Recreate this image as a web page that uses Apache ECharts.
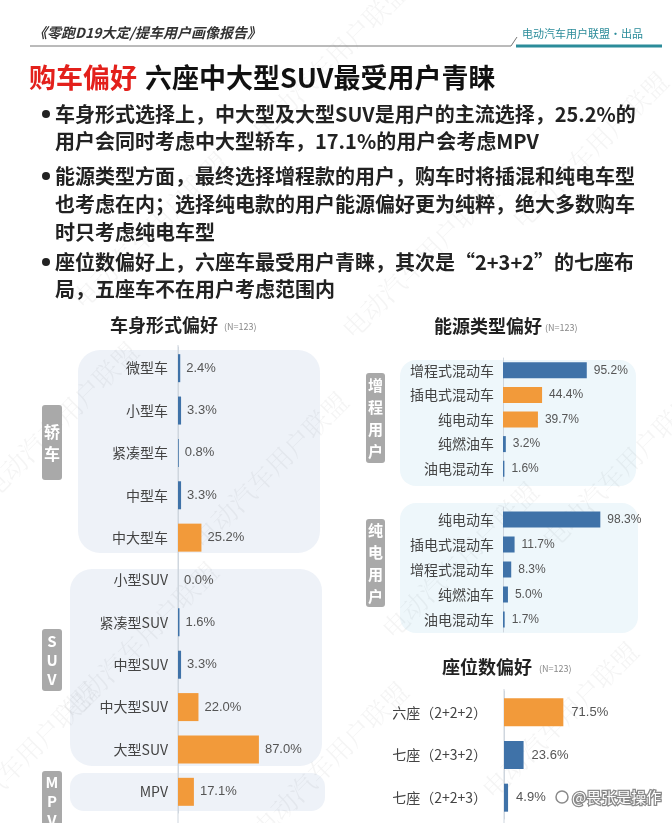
<!DOCTYPE html>
<html><head><meta charset="utf-8">
<script src="https://cdn.jsdelivr.net/npm/echarts@6/dist/echarts.min.js"></script>
<style>html,body{margin:0;padding:0;background:#fff}#c{width:672px;height:823px}</style>
</head><body><div id="c"></div>
<script>
// ---- data ----
const bodyCats = ['微型车','小型车','紧凑型车','中型车','中大型车','小型SUV','紧凑型SUV','中型SUV','中大型SUV','大型SUV','MPV'];
const bodyVals = [2.4, 3.3, 0.8, 3.3, 25.2, 0.0, 1.6, 3.3, 22.0, 87.0, 17.1];
const erevCats = ['增程式混动车','插电式混动车','纯电动车','纯燃油车','油电混动车'];
const erevVals = [95.2, 44.4, 39.7, 3.2, 1.6];
const bevCats = ['纯电动车','插电式混动车','增程式混动车','纯燃油车','油电混动车'];
const bevVals = [98.3, 11.7, 8.3, 5.0, 1.7];
const seatCats = ['六座（2+2+2）','七座（2+3+2）','七座（2+2+3）'];
const seatVals = [71.5, 23.6, 4.9];
const bullets = [
  ['车身形式选择上，中大型及大型SUV是用户的主流选择，25.2%的','用户会同时考虑中大型轿车，17.1%的用户会考虑MPV'],
  ['能源类型方面，最终选择增程款的用户，购车时将插混和纯电车型','也考虑在内；选择纯电款的用户能源偏好更为纯粹，绝大多数购车','时只考虑纯电车型'],
  ['座位数偏好上，六座车最受用户青睐，其次是“2+3+2”的七座布','局，五座车不在用户考虑范围内']
];

// ---- styles ----
const ORANGE = '#F29A3A', BLUE = '#3F72A8', FONT = '"Noto Sans CJK SC","Noto Sans",sans-serif';
const bodyOrange = ['中大型车','中大型SUV','大型SUV','MPV'];
const erevOrange = ['插电式混动车','纯电动车'];
const seatOrange = ['六座（2+2+2）'];

const chart = echarts.init(document.getElementById('c'), null, {renderer:'canvas'});

function T(text, x, y, font, fill, align) {
  return {type:'text', x:x, y:y, z:10, style:{text:text, font:font, fill:fill,
    textAlign:align||'left', align:align||'left', textVerticalAlign:'middle', verticalAlign:'middle'}};
}
const g = [];
// watermarks
const wm = [[330,60],[590,150],[150,230],[420,260],[60,420],[270,470],[620,470],[140,640],[460,560],[330,760],[560,720],[20,760]];
wm.forEach(p => g.push({type:'text', x:p[0], y:p[1], rotation:Math.PI/4, z:1,
  style:{text:'电动汽车用户联盟', font:'26px "Noto Serif CJK SC","Noto Sans CJK SC",serif', fill:'rgba(0,0,0,0.045)', textAlign:'center', align:'center', textVerticalAlign:'middle', verticalAlign:'middle'}}));
// header
g.push(T('《零跑D19大定/提车用户画像报告》', 33, 33, 'italic bold 14px '+FONT, '#333'));
g.push(T('电动汽车用户联盟•出品', 522, 34, '11px '+FONT, '#2B8C9A'));
g.push({type:'polyline', z:5, shape:{points:[[30,46],[511,46],[517,37]]}, style:{stroke:'#777', lineWidth:1, fill:null}});
g.push({type:'line', z:5, shape:{x1:516,y1:46,x2:662,y2:46}, style:{stroke:'#2B8C9A', lineWidth:3}});
// title
g.push(T('购车偏好', 29, 78, 'bold 27px '+FONT, '#E3201B'));
g.push(T('六座中大型SUV最受用户青睐', 145, 78, 'bold 27px '+FONT, '#111'));
// bullets
const lineYs = [[114,141],[176,204,232],[262,289]];
bullets.forEach((b, i) => {
  g.push({type:'circle', z:10, shape:{cx:46, cy:lineYs[i][0], r:4}, style:{fill:'#222'}});
  b.forEach((line, j) => g.push(T(line, 55, lineYs[i][j], 'bold 20px '+FONT, '#222')));
});
// section titles
g.push(T('车身形式偏好', 110, 325, 'bold 18px '+FONT, '#222'));
g.push(T('(N=123)', 224, 327, '9px '+FONT, '#888'));
g.push(T('能源类型偏好', 434, 326, 'bold 18px '+FONT, '#222'));
g.push(T('(N=123)', 545, 328, '9px '+FONT, '#888'));
g.push(T('座位数偏好', 442, 667, 'bold 18px '+FONT, '#222'));
g.push(T('(N=123)', 539, 669, '9px '+FONT, '#888'));
// background boxes
function box(x,y,w,h,r,c){ g.push({type:'rect', z:-10, shape:{x:x,y:y,width:w,height:h,r:r}, style:{fill:c}}); }
box(78,350,242,203,22,'#EEF2F8');
box(70,569,252,197,22,'#EEF2F8');
box(70,773,255,38,14,'#EEF2F8');
box(400,360,236,126,16,'#EEF7FB');
box(400,503,238,130,16,'#EEF7FB');
// vertical tags
function tag(x,y,w,h,txt,fs,lh){
  g.push({type:'rect', z:6, shape:{x:x,y:y,width:w,height:h,r:3}, style:{fill:'#A9A9A9'}});
  g.push({type:'text', z:7, x:x+w/2, y:y+h/2, style:{text:txt, font:'bold '+fs+'px '+FONT, fill:'#fff', textAlign:'center', align:'center', textVerticalAlign:'middle', verticalAlign:'middle', lineHeight:lh}});
}
tag(42,405,20,75,'轿\n车',16,22);
tag(42,629,20,62,'S\nU\nV',15,19);
tag(42,771,20,60,'M\nP\nV',15,19);
tag(366,373,19,90,'增\n程\n用\n户',15,22);
tag(366,519,19,88,'纯\n电\n用\n户',15,22);
// axis line extensions
g.push({type:'line', z:8, shape:{x1:178,y1:345,x2:178,y2:823}, style:{stroke:'#cfd6de', lineWidth:1}});
g.push({type:'line', z:8, shape:{x1:504,y1:689,x2:504,y2:823}, style:{stroke:'#cfd6de', lineWidth:1}});
// credit
g.push({type:'text', z:12, x:572, y:797, style:{text:'@畏张是操作', font:'15px '+FONT, fill:'#fff', stroke:'#8a8a8a', lineWidth:2.5, textAlign:'left', align:'left', textVerticalAlign:'middle', verticalAlign:'middle'}});
g.push({type:'circle', z:12, shape:{cx:562, cy:797, r:6}, style:{fill:'#fff', stroke:'#8a8a8a', lineWidth:1.5}});

function colorData(cats, vals, orangeSet){
  return vals.map((v,i) => ({value:v, itemStyle:{color: orangeSet.indexOf(cats[i])>=0 ? ORANGE : BLUE}}));
}
function yAx(idx, cats, fs, margin){
  return {type:'category', gridIndex:idx, data:cats, inverse:true, z:20,
    axisLine:{show:true, lineStyle:{color:'#cfd6de'}}, axisTick:{show:false},
    axisLabel:{color:'#444', fontSize:fs, fontFamily:FONT, margin:margin}};
}
function xAx(idx, max){
  return {type:'value', gridIndex:idx, min:0, max:max, show:false, splitLine:{show:false}};
}
function ser(idx, data, bw, fs, dist){
  return {type:'bar', xAxisIndex:idx, yAxisIndex:idx, data:data, barWidth:bw, z:20,
    label:{show:true, position:'right', distance:dist, color:'#555', fontSize:fs, fontFamily:'"Liberation Sans",Arial,sans-serif',
      formatter:p => p.value.toFixed(1)+'%'}};
}

chart.setOption({
  animation:false,
  backgroundColor:'#fff',
  grid:[
    {left:178, top:347, width:93, height:466},
    {left:503, top:358, width:88, height:123},
    {left:503, top:507, width:99, height:125},
    {left:504, top:691, width:83, height:128}
  ],
  xAxis:[xAx(0,100), xAx(1,100), xAx(2,100), xAx(3,100)],
  yAxis:[yAx(0,bodyCats,14,10), yAx(1,erevCats,14,9), yAx(2,bevCats,14,9), yAx(3,seatCats,14,17)],
  series:[
    ser(0, colorData(bodyCats, bodyVals, bodyOrange), 28, 13, 6),
    ser(1, colorData(erevCats, erevVals, erevOrange), 16, 12, 7),
    ser(2, colorData(bevCats, bevVals, []), 16, 12, 7),
    ser(3, colorData(seatCats, seatVals, seatOrange), 28, 13, 8)
  ],
  graphic:{elements:g}
});
</script></body></html>
